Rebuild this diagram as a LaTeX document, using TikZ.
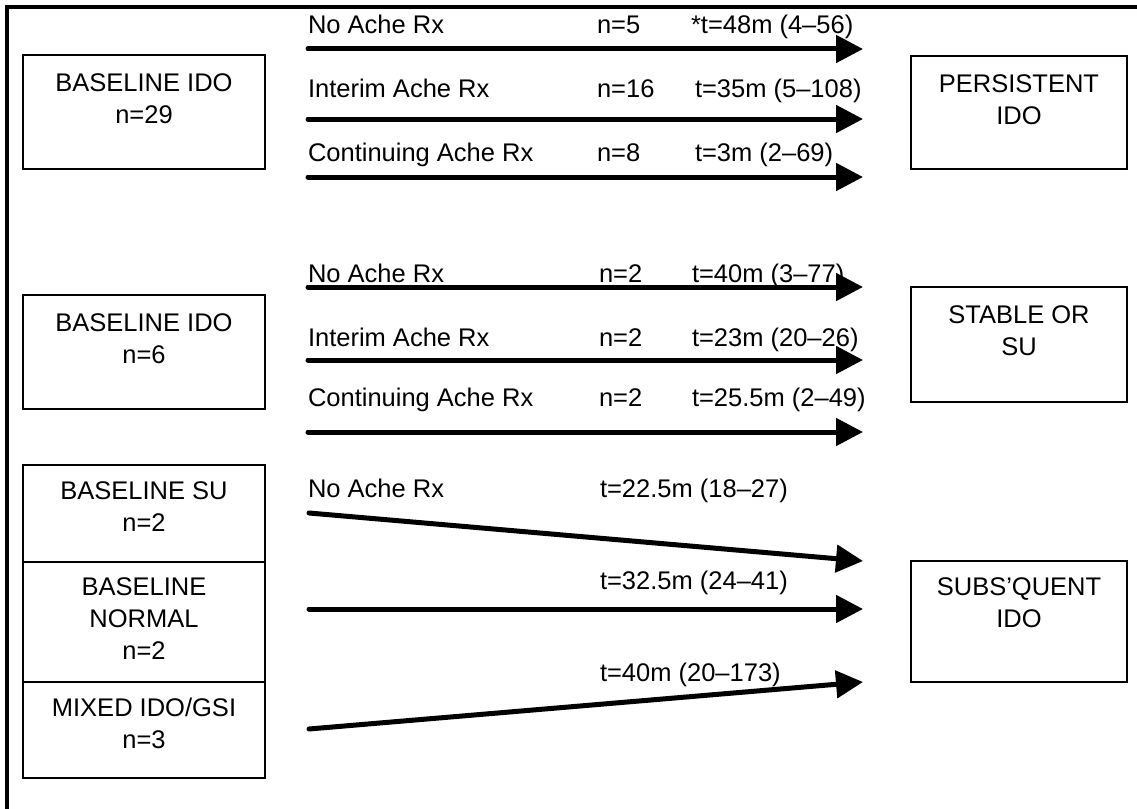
\documentclass[tikz,border=0pt]{standalone}
\usepackage{fontspec}
\setmainfont{Liberation Sans}
\usetikzlibrary{arrows.meta}
\begin{document}
\begin{tikzpicture}[x=1bp,y=-1bp,
  every node/.style={inner sep=0pt, outer sep=0pt, font=\fontsize{25.5bp}{32bp}\selectfont},
  box/.style={draw, line width=1.6bp, anchor=north west, minimum width=#1},
  boxtext/.style={anchor=north, align=center},
  lab/.style={anchor=base west},
  arr/.style={line width=5bp, line cap=round, -{Triangle[length=27bp,width=27bp]}},
  frameline/.style={line width=4.5bp}]
\useasboundingbox (0,0) rectangle (1137,809);
% frame
\draw[frameline] (7,809) -- (7,7) -- (1137,7);

% left boxes
\node[box=242bp, minimum height=114bp] (b1) at (23,55) {};
\node[boxtext] (b1t) at ([yshift=-19bp]b1.north) {BASELINE IDO\\n=29};
\node[box=242bp, minimum height=114bp] (b2) at (23,295) {};
\node[boxtext] (b2t) at ([yshift=-19bp]b2.north) {BASELINE IDO\\n=6};
\node[box=242bp, minimum height=97bp] (b3) at (23,465) {};
\node[boxtext] (b3t) at ([yshift=-17bp]b3.north) {BASELINE SU\\n=2};
\node[box=242bp, minimum height=120bp] (b4) at (23,562) {};
\node[boxtext] (b4t) at ([yshift=-16bp]b4.north) {BASELINE\\NORMAL\\n=2};
\node[box=242bp, minimum height=96bp] (b5) at (23,682) {};
\node[boxtext] (b5t) at ([yshift=-16bp]b5.north) {MIXED IDO/GSI\\n=3};

% right boxes
\node[box=216bp, minimum height=113bp] (r1) at (911,56) {};
\node[boxtext] (r1t) at ([yshift=-19bp]r1.north) {PERSISTENT\\IDO};
\node[box=216bp, minimum height=115bp] (r2) at (911,287) {};
\node[boxtext] (r2t) at ([yshift=-19bp]r2.north) {STABLE OR\\SU};
\node[box=216bp, minimum height=121bp] (r3) at (911,561) {};
\node[boxtext] (r3t) at ([yshift=-17bp]r3.north) {SUBS’QUENT\\IDO};

% arrow end points
\coordinate (s1) at (308,49);  \coordinate (e1) at (863,49);
\coordinate (s2) at (308,119); \coordinate (e2) at (863,119);
\coordinate (s3) at (308,177); \coordinate (e3) at (863,177);
\coordinate (s4) at (308,287); \coordinate (e4) at (863,287);
\coordinate (s5) at (308,360); \coordinate (e5) at (863,360);
\coordinate (s6) at (308,432); \coordinate (e6) at (863,432);
\coordinate (s7) at (309,513); \coordinate (e7) at (863,561);
\coordinate (s8) at (309,609); \coordinate (e8) at (863,609);
\coordinate (s9) at (309,729); \coordinate (e9) at (863,682);

\foreach \i in {1,...,9} {\draw[arr] (s\i) -- (e\i);}

% group 1 labels
\node[lab] (l1a) at (308,34) {No Ache Rx};
\node[lab] (l1b) at (597,34) {n=5};
\node[lab] (l1c) at (691,34) {*t=48m (4–56)};
\node[lab] (l2a) at (308,98) {Interim Ache Rx};
\node[lab] (l2b) at (597,98) {n=16};
\node[lab] (l2c) at (695,98) {t=35m (5–108)};
\node[lab] (l3a) at (308,161) {Continuing Ache Rx};
\node[lab] (l3b) at (597,161) {n=8};
\node[lab] (l3c) at (695,161) {t=3m (2–69)};
% group 2 labels
\node[lab] (l4a) at (308,282) {No Ache Rx};
\node[lab] (l4b) at (599,282) {n=2};
\node[lab] (l4c) at (692,282) {t=40m (3–77)};
\node[lab] (l5a) at (308,346) {Interim Ache Rx};
\node[lab] (l5b) at (599,346) {n=2};
\node[lab] (l5c) at (692,346) {t=23m (20–26)};
\node[lab] (l6a) at (308,406) {Continuing Ache Rx};
\node[lab] (l6b) at (599,406) {n=2};
\node[lab] (l6c) at (692,406) {t=25.5m (2–49)};
% group 3 labels
\node[lab] (l7a) at (308,497) {No Ache Rx};
\node[lab] (l7c) at (600,497) {t=22.5m (18–27)};
\node[lab] (l8c) at (600,589) {t=32.5m (24–41)};
\node[lab] (l9c) at (600,681) {t=40m (20–173)};
\end{tikzpicture}
\end{document}
